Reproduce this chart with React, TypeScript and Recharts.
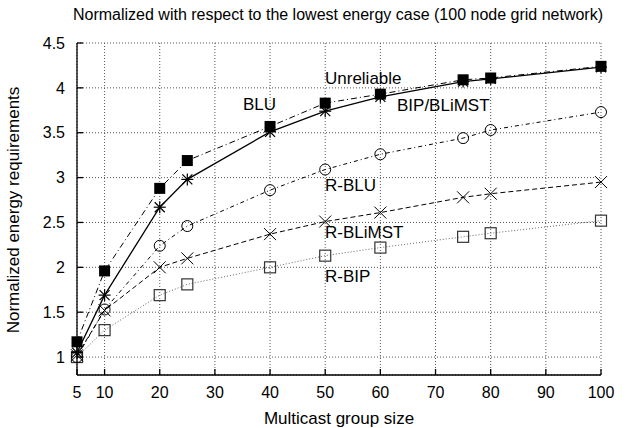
import { LineChart, Line, XAxis, YAxis, CartesianGrid } from "recharts";

// group sizes on the x axis
const groupSizes = [5, 10, 20, 25, 40, 50, 60, 75, 80, 100];

const unreliable = [1.17, 1.96, 2.88, 3.19, 3.57, 3.83, 3.93, 4.09, 4.11, 4.24];
const bipBlimst = [1.05, 1.69, 2.67, 2.98, 3.51, 3.74, 3.9, 4.07, 4.1, 4.23];
const rBlu = [1.0, 1.53, 2.24, 2.46, 2.86, 3.09, 3.26, 3.44, 3.53, 3.73];
const rBlimst = [1.02, 1.52, 2.0, 2.1, 2.37, 2.51, 2.61, 2.78, 2.82, 2.95];
const rBip = [1.0, 1.3, 1.69, 1.81, 2.0, 2.13, 2.22, 2.34, 2.38, 2.52];

const xTicks = [5, 10, 20, 30, 40, 50, 60, 70, 80, 90, 100];
const yTicks = [1, 1.5, 2, 2.5, 3, 3.5, 4, 4.5];

const FONT = "'Liberation Sans', Arial, sans-serif";

const data = groupSizes.map((x, i) => ({
  x,
  unreliable: unreliable[i],
  bipBlimst: bipBlimst[i],
  rBlu: rBlu[i],
  rBlimst: rBlimst[i],
  rBip: rBip[i],
}));

// gnuplot-like point markers
const FilledSquare = (p: any) => (
  <rect key={p.index} x={p.cx - 5.5} y={p.cy - 5.5} width={11} height={11} fill="#000" />
);
const Star = (p: any) => (
  <g key={p.index} stroke="#000" strokeWidth={1.2}>
    <line x1={p.cx - 6} y1={p.cy} x2={p.cx + 6} y2={p.cy} />
    <line x1={p.cx} y1={p.cy - 6} x2={p.cx} y2={p.cy + 6} />
    <line x1={p.cx - 5} y1={p.cy - 5} x2={p.cx + 5} y2={p.cy + 5} />
    <line x1={p.cx - 5} y1={p.cy + 5} x2={p.cx + 5} y2={p.cy - 5} />
  </g>
);
const Circle = (p: any) => (
  <circle key={p.index} cx={p.cx} cy={p.cy} r={5.5} fill="none" stroke="#000" strokeWidth={1} />
);
const Cross = (p: any) => (
  <g key={p.index} stroke="#000" strokeWidth={1}>
    <line x1={p.cx - 6} y1={p.cy - 6} x2={p.cx + 6} y2={p.cy + 6} />
    <line x1={p.cx - 6} y1={p.cy + 6} x2={p.cx + 6} y2={p.cy - 6} />
  </g>
);
const OpenSquare = (p: any) => (
  <rect key={p.index} x={p.cx - 5.5} y={p.cy - 5.5} width={11} height={11} fill="none" stroke="#333" strokeWidth={1.2} />
);

const tickStyle = { fontSize: 16, fill: "#000", fontFamily: FONT };

const labelStyle: React.CSSProperties = {
  position: "absolute",
  fontFamily: FONT,
  fontSize: 17,
  lineHeight: "17px",
  color: "#000",
  whiteSpace: "nowrap",
};

export default function App() {
  return (
    <div style={{ position: "absolute", left: 0, top: 0, width: 637, height: 428, background: "#fff" }}>
      <LineChart
        width={637}
        height={428}
        data={data}
        margin={{ top: 43, right: 36, bottom: 23, left: 17 }}
      >
        <CartesianGrid xAxisId="b" yAxisId="l" stroke="#555" strokeDasharray="1 2" />
        <XAxis
          xAxisId="b"
          dataKey="x"
          type="number"
          domain={[5, 100]}
          ticks={xTicks}
          tick={tickStyle}
          stroke="#000"
          strokeWidth={1.3}
          tickSize={-6}
          tickMargin={18}
          height={30}
        />
        <XAxis
          xAxisId="t"
          orientation="top"
          dataKey="x"
          type="number"
          domain={[5, 100]}
          ticks={xTicks}
          tickFormatter={() => ""}
          stroke="#000"
          strokeWidth={1.3}
          tickSize={-6}
          height={0}
        />
        <YAxis
          yAxisId="l"
          type="number"
          domain={[0.8, 4.5]}
          ticks={yTicks}
          allowDataOverflow
          tick={tickStyle}
          stroke="#000"
          strokeWidth={1.3}
          tickSize={-6}
          tickMargin={18}
          width={60}
        />
        <YAxis
          yAxisId="r"
          orientation="right"
          type="number"
          domain={[0.8, 4.5]}
          ticks={yTicks}
          allowDataOverflow
          tickFormatter={() => ""}
          stroke="#000"
          strokeWidth={1.3}
          tickSize={-6}
          width={0}
        />
        <Line xAxisId="b" yAxisId="l" dataKey="rBip" stroke="#666" strokeWidth={1} strokeDasharray="1 2" dot={OpenSquare} isAnimationActive={false} />
        <Line xAxisId="b" yAxisId="l" dataKey="rBlimst" stroke="#000" strokeWidth={1} strokeDasharray="5 3" dot={Cross} isAnimationActive={false} />
        <Line xAxisId="b" yAxisId="l" dataKey="rBlu" stroke="#000" strokeWidth={1} strokeDasharray="4 3 1 3" dot={Circle} isAnimationActive={false} />
        <Line xAxisId="b" yAxisId="l" dataKey="bipBlimst" stroke="#000" strokeWidth={1.3} dot={Star} isAnimationActive={false} />
        <Line xAxisId="b" yAxisId="l" dataKey="unreliable" stroke="#000" strokeWidth={1} strokeDasharray="6 3 1 3" dot={FilledSquare} isAnimationActive={false} />
      </LineChart>

      <div style={{ ...labelStyle, fontSize: 16, left: 0, width: 676, top: 6, textAlign: "center" }}>
        Normalized with respect to the lowest energy case (100 node grid network)
      </div>
      <div style={{ ...labelStyle, left: 0, width: 678, top: 410, textAlign: "center" }}>
        Multicast group size
      </div>
      <div
        style={{
          ...labelStyle,
          left: 13,
          top: 210,
          transform: "translate(-50%, -50%) rotate(-90deg)",
        }}
      >
        Normalized energy requirements
      </div>
      <div style={{ ...labelStyle, left: 325, top: 70 }}>Unreliable</div>
      <div style={{ ...labelStyle, left: 243, top: 96 }}>BLU</div>
      <div style={{ ...labelStyle, left: 397, top: 97 }}>BIP/BLiMST</div>
      <div style={{ ...labelStyle, left: 325, top: 177 }}>R-BLU</div>
      <div style={{ ...labelStyle, left: 325, top: 224 }}>R-BLiMST</div>
      <div style={{ ...labelStyle, left: 325, top: 268 }}>R-BIP</div>
    </div>
  );
}
